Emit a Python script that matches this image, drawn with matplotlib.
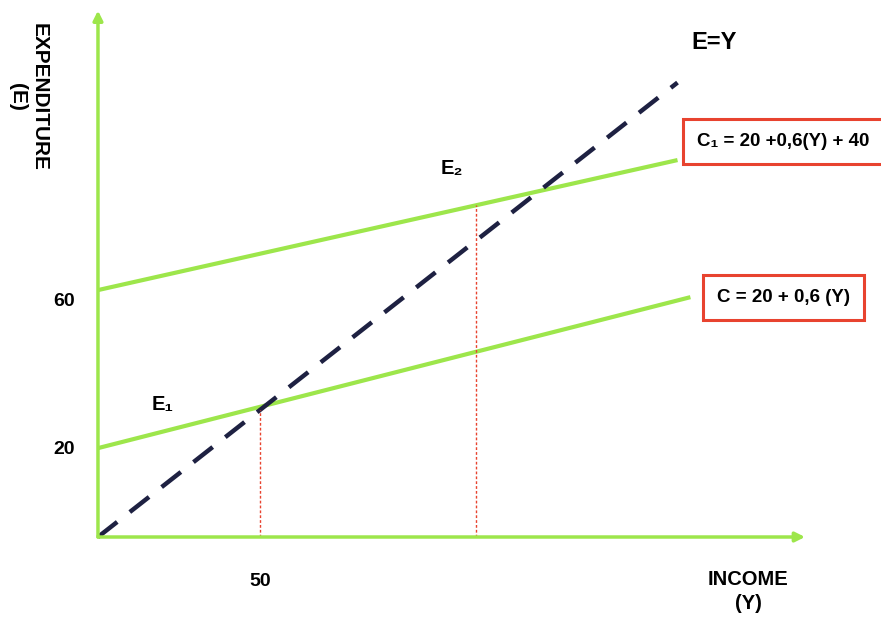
import matplotlib
matplotlib.use("Agg")
import matplotlib.pyplot as plt

# schematic data (income Y on x, expenditure E on y)
income_45 = [0, 180]
exp_45 = [0, 180]

income_c = [0, 184]
exp_c = [35.2, 95.0]

income_c1 = [0, 180]
exp_c1 = [97.8, 149.3]

eq_income = [50.3, 117.4]
eq_exp = [50.5, 131.5]

tick_vals_y = [35.2, 97.8]
tick_labels_y = ["20", "60"]
tick_vals_x = [50.3]
tick_labels_x = ["50"]

GREEN = "#9de64b"
NAVY = "#1e2142"
RED = "#e8432f"
FONT = ["Liberation Sans", "DejaVu Sans"]

fig = plt.figure(figsize=(8.81, 6.18), dpi=100)
ax = fig.add_axes([0, 0, 1, 1])
ax.set_xlim(-30.43, 243.2)
ax.set_ylim(-32.08, 212.7)
ax.axis("off")

# axes with arrows
ax.annotate("", xy=(219.6, 0), xytext=(0, 0),
            arrowprops=dict(arrowstyle="-|>", color=GREEN, lw=2.5, mutation_scale=14, shrinkA=0, shrinkB=0))
ax.annotate("", xy=(0, 208.5), xytext=(0, 0),
            arrowprops=dict(arrowstyle="-|>", color=GREEN, lw=2.5, mutation_scale=14, shrinkA=0, shrinkB=0))

# consumption lines
ax.plot(income_c, exp_c, color=GREEN, lw=3, solid_capstyle="butt")
ax.plot(income_c1, exp_c1, color=GREEN, lw=3, solid_capstyle="butt")

# 45 degree line
ax.plot(income_45, exp_45, color=NAVY, lw=3.2, dashes=(5.5, 3.6), dash_capstyle="butt")

# dotted drop lines
for yi, ei in zip(eq_income, eq_exp):
    ax.plot([yi, yi], [0, ei], color=RED, lw=1, ls=(0, (2, 1.5)))

# tick labels
for v, lab in zip(tick_vals_y, tick_labels_y):
    ax.text(-10.5, v - 0.6 + (0 if lab == "20" else -4), lab, ha="center", va="center",
            fontsize=14, fontweight="bold", family=FONT)
for v, lab in zip(tick_vals_x, tick_labels_x):
    ax.text(v, -17.5, lab, ha="center", va="center", fontsize=14, fontweight="bold", family=FONT)

# axis titles
ax.text(-21.7, 174.3, "EXPENDITURE\n(E)", rotation=-90, ha="center", va="center",
        fontsize=15, fontweight="bold", family=FONT, linespacing=1.15)
ax.text(201.9, -21.5, "INCOME\n(Y)", ha="center", va="center",
        fontsize=14.5, fontweight="bold", family=FONT, linespacing=1.35)

ax.text(191.5, 196, "E=Y", ha="center", va="center", fontsize=17, fontweight="bold", family=FONT)
ax.text(20.2, 52.5, "E\u2081", ha="center", va="center", fontsize=14.5, fontweight="bold", family=FONT)
ax.text(110, 146, "E\u2082", ha="center", va="center", fontsize=14.5, fontweight="bold", family=FONT)

box = dict(boxstyle="square,pad=0.75", facecolor="white", edgecolor=RED, lw=2.2)
ax.text(212.7, 156.5, "C\u2081 = 20 +0,6(Y) + 40", ha="center", va="center",
        fontsize=13.5, fontweight="bold", family=FONT, bbox=box)
ax.text(213.0, 94.7, "C = 20 + 0,6 (Y)", ha="center", va="center",
        fontsize=13.5, fontweight="bold", family=FONT, bbox=box)

fig.savefig("out.png", dpi=100)
